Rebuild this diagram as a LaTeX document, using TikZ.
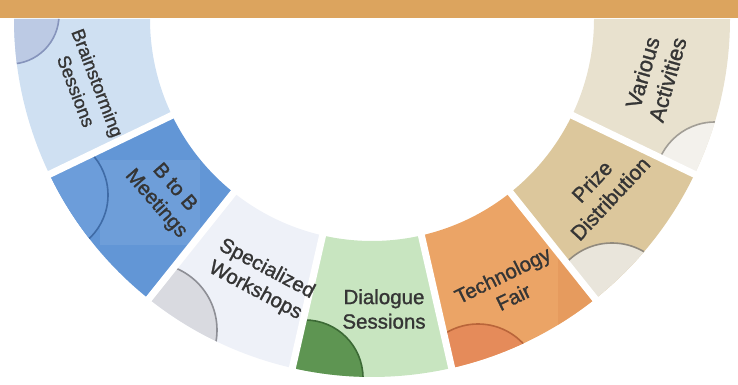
\documentclass[tikz,border=0pt]{standalone}
\usepackage{fontspec}
\setmainfont{Liberation Sans}
\newfontfamily\itemfont{Liberation Sans}[RawFeature={embolden=1.2}]
\definecolor{barorange}{HTML}{DCA45E}
\definecolor{textgray}{HTML}{353535}
\definecolor{brainblue}{HTML}{CFE0F2}
\definecolor{brainglow}{HTML}{BCCAE4}
\definecolor{brainrim}{HTML}{8694BC}
\definecolor{bbblue}{HTML}{6296D6}
\definecolor{bbglow}{HTML}{6C9DDA}
\definecolor{bbrim}{HTML}{3F6BA6}
\definecolor{workgray}{HTML}{EEF1F8}
\definecolor{workglow}{HTML}{D9DAE0}
\definecolor{workrim}{HTML}{8E8F96}
\definecolor{dialgreen}{HTML}{C8E5C0}
\definecolor{dialglow}{HTML}{5E9552}
\definecolor{dialrim}{HTML}{3C6A35}
\definecolor{techorange}{HTML}{EBA466}
\definecolor{techpatch}{HTML}{E49659}
\definecolor{techglow}{HTML}{E58B5A}
\definecolor{techrim}{HTML}{B9653A}
\definecolor{prizetan}{HTML}{DCC79C}
\definecolor{prizeglow}{HTML}{E9E5DB}
\definecolor{prizerim}{HTML}{918A7E}
\definecolor{variousbeige}{HTML}{E8E1CE}
\definecolor{variousglow}{HTML}{F3F1EC}
\definecolor{variousrim}{HTML}{A29E96}
\tikzset{
  ringpart/.style 2 args={insert path={([shift={(372,19)}]#1:358) arc[start angle=#1,end angle=#2,radius=358]
    -- ([shift={(372,19)}]#2:222) arc[start angle=#2,end angle=#1,radius=222] -- cycle}},
  gapline/.style={white,line width=7},
  itemtext/.style={text=textgray,align=center,inner sep=0pt,font=\itemfont\fontsize{20.5}{24.5}\selectfont},
  gloss/.style 2 args={fill=#1,draw=#2,line width=1.6}
}
\begin{document}
\begin{tikzpicture}[x=1pt,y=-1pt]
      \useasboundingbox (0,0) rectangle (738,385);
      \fill[barorange] (0,0) rectangle (738,18);

      \fill[brainblue] [ringpart={180}{154.29}];
      \fill[bbblue] [ringpart={154.29}{128.57}];
      \fill[workgray] [ringpart={128.57}{102.86}];
      \fill[dialgreen] [ringpart={102.86}{77.14}];
      \fill[techorange] [ringpart={77.14}{51.43}];
      \fill[prizetan] [ringpart={51.43}{25.71}];
      \fill[variousbeige] [ringpart={25.71}{0}];

      \begin{scope}
        \clip[ringpart={180}{154.29}];
        \draw[gloss={brainglow}{brainrim}] (10,15) circle[radius=49];
      \end{scope}
      \begin{scope}
        \clip[ringpart={154.29}{128.57}];
        \fill[white,opacity=0.08] (100,160) rectangle (200,245);
        \draw[gloss={bbglow}{bbrim}] (48,195) circle[radius=60];
      \end{scope}
      \begin{scope}
        \clip[ringpart={128.57}{102.86}];
        \draw[gloss={workglow}{workrim}] (150,330) circle[radius=67];
      \end{scope}
      \begin{scope}
        \clip[ringpart={102.86}{77.14}];
        \draw[gloss={dialglow}{dialrim}] (305,378) circle[radius=58];
      \end{scope}
      \begin{scope}
        \clip[ringpart={77.14}{51.43}];
        \fill[techpatch,opacity=0.6] (558,222) rectangle (640,345);
        \draw[gloss={techglow}{techrim}] (478,386) circle[radius=62];
      \end{scope}
      \begin{scope}
        \clip[ringpart={51.43}{25.71}];
        \draw[gloss={prizeglow}{prizerim}] (612,306) circle[radius=63];
      \end{scope}
      \begin{scope}
        \clip[ringpart={25.71}{0}];
        \draw[gloss={variousglow}{variousrim}] (715,182) circle[radius=60];
      \end{scope}

      \draw[gapline] ([shift={(372,19)}]154.29:214) -- ([shift={(372,19)}]154.29:366);
      \draw[gapline] ([shift={(372,19)}]128.57:214) -- ([shift={(372,19)}]128.57:366);
      \draw[gapline] ([shift={(372,19)}]102.86:214) -- ([shift={(372,19)}]102.86:366);
      \draw[gapline] ([shift={(372,19)}]77.14:214) -- ([shift={(372,19)}]77.14:366);
      \draw[gapline] ([shift={(372,19)}]51.43:214) -- ([shift={(372,19)}]51.43:366);
      \draw[gapline] ([shift={(372,19)}]25.71:214) -- ([shift={(372,19)}]25.71:366);

      \node[itemtext,rotate=-69,font=\itemfont\fontsize{18.5}{23}\selectfont] (brainstorm) at (87,87) {Brainstorming\\Sessions};
      \node[itemtext,rotate=-49] (btob) at (165,196) {B to B\\Meetings};
      \node[itemtext,rotate=-28] (workshops) at (261,280) {Specialized\\Workshops};
      \node[itemtext] (dialogue) at (384,309) {Dialogue\\Sessions};
      \node[itemtext,rotate=26] (techfair) at (508,286) {Technology\\Fair};
      \node[itemtext,rotate=47,font=\itemfont\fontsize{21}{25}\selectfont] (prize) at (601,190) {Prize\\Distribution};
      \node[itemtext,rotate=74,font=\itemfont\fontsize{22}{26}\selectfont] (various) at (655,76) {Various\\Activities};
    \end{tikzpicture}
\end{document}
